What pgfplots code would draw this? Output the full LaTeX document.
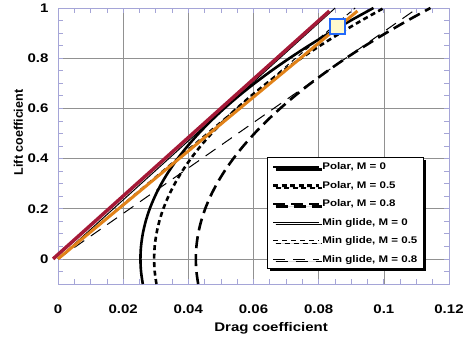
\documentclass[border=0pt]{standalone}
\usepackage{fontspec}
\setmainfont{Liberation Sans}[FakeStretch=1.2]
\newfontfamily\ylabfont{Liberation Sans}
\usepackage{pgfplots}
\pgfplotsset{compat=1.18}
\usetikzlibrary{shadows}
\definecolor{framec}{RGB}{165,165,215}
\definecolor{gridc}{RGB}{145,145,145}
\definecolor{redl}{RGB}{165,25,55}
\definecolor{orangel}{RGB}{225,130,25}
\definecolor{sqblue}{RGB}{35,105,250}
\definecolor{sqfill}{RGB}{255,250,205}
\pgfplotstableread{
cl cda cdb cdc
-0.10 0.02602 0.03021 0.04302
-0.05 0.02548 0.02968 0.04248
0.00 0.02530 0.02950 0.04230
0.05 0.02548 0.02968 0.04248
0.10 0.02602 0.03021 0.04302
0.15 0.02691 0.03109 0.04392
0.20 0.02816 0.03232 0.04518
0.25 0.02977 0.03391 0.04680
0.30 0.03174 0.03585 0.04878
0.35 0.03406 0.03814 0.05112
0.40 0.03674 0.04078 0.05382
0.45 0.03978 0.04378 0.05688
0.50 0.04318 0.04713 0.06030
0.55 0.04693 0.05083 0.06408
0.60 0.05104 0.05488 0.06822
0.65 0.05551 0.05929 0.07272
0.70 0.06034 0.06405 0.07758
0.75 0.06552 0.06916 0.08280
0.80 0.07106 0.07462 0.08838
0.85 0.07696 0.08044 0.09432
0.90 0.08322 0.08661 0.10062
0.95 0.08983 0.09313 0.10728
1.00 0.09680 0.10000 0.11430
}\polars
\begin{document}
\begin{tikzpicture}
\path[use as bounding box] (0,0) rectangle (468pt,341pt);
\begin{axis}[
 at={(58pt,57pt)}, anchor=south west,
 width=391pt, height=276pt, scale only axis,
 xmin=0, xmax=0.12, ymin=-0.1, ymax=1,
 clip=false,
 xtick={0,0.02,0.04,0.06,0.08,0.1,0.12},
 xticklabels={0,0.02,0.04,0.06,0.08,0.1,0.12},
 ytick={0,0.2,0.4,0.6,0.8,1},
 yticklabels={0,0.2,0.4,0.6,0.8,1},
 minor xtick={0.005,0.01,0.015,0.025,0.03,0.035,0.045,0.05,0.055,0.065,0.07,0.075,0.085,0.09,0.095,0.105,0.11,0.115},
 minor ytick={-0.05,0.05,0.1,0.15,0.25,0.3,0.35,0.45,0.5,0.55,0.65,0.7,0.75,0.85,0.9,0.95},
 scaled ticks=false,
 tick label style={font=\bfseries\fontsize{12.5}{14}\selectfont},
 xticklabel style={yshift=-17pt},
 yticklabel style={xshift=-6pt},
 axis line style={framec, line width=0.9pt},
 tick style={framec, line width=0.7pt},
 major tick length=5pt, minor tick length=5pt,
 tick align=inside,
 grid=major, major grid style={gridc, line width=0.6pt},
 xlabel={Drag coefficient},
 ylabel={Lift coefficient},
 xlabel style={font=\bfseries\fontsize{12.5}{15}\selectfont, at={(axis description cs:0.545,-0.126)}, anchor=north},
 ylabel style={font=\ylabfont\bfseries\fontsize{12.5}{14}\selectfont, at={(axis description cs:-0.101,0.549)}, anchor=center},
 legend style={at={(rel axis cs:0.936,0.054)}, anchor=south east, draw=black, line width=1.2pt, fill=white,
   font=\bfseries\fontsize{9.6}{11.5}\selectfont, row sep=6pt, inner xsep=4pt, inner ysep=3pt,
   drop shadow={shadow xshift=2.5pt, shadow yshift=-2.5pt, fill=black, opacity=1}},
 legend cell align=left,
 legend image code/.code={\draw[#1] (0pt,0pt) -- (46pt,0pt);},
]
\addplot[black, line width=2.6pt, smooth] table[x=cda, y=cl] {\polars};
\addlegendentry{Polar, M = 0}
\addplot[black, line width=2.6pt, smooth, dash pattern=on 5pt off 3.5pt] table[x=cdb, y=cl] {\polars};
\addlegendentry{Polar, M = 0.5}
\addplot[black, line width=2.6pt, smooth, dash pattern=on 12pt off 6pt] table[x=cdc, y=cl] {\polars};
\addlegendentry{Polar, M = 0.8}
\addplot[black, line width=1pt] coordinates {(0,0) (0.08506,1)};
\addlegendentry{Min glide, M = 0}
\addplot[black, line width=1pt, dash pattern=on 5pt off 4pt] coordinates {(0,0) (0.0912,1)};
\addlegendentry{Min glide, M = 0.5}
\addplot[black, line width=1pt, dash pattern=on 12pt off 8pt] coordinates {(0,0) (0.1104,1)};
\addlegendentry{Min glide, M = 0.8}
\addplot[redl, line width=3.5pt, forget plot] coordinates {(-0.0015,0) (0.0833,0.988)};
\addplot[orangel, line width=3pt, forget plot] coordinates {(0,0) (0.0919,0.988)};
\addplot[only marks, mark=square*, mark size=7.5pt, mark options={draw=sqblue, fill=sqfill, line width=2pt}, forget plot] coordinates {(0.0857,0.925)};
\end{axis}
\end{tikzpicture}
\end{document}
